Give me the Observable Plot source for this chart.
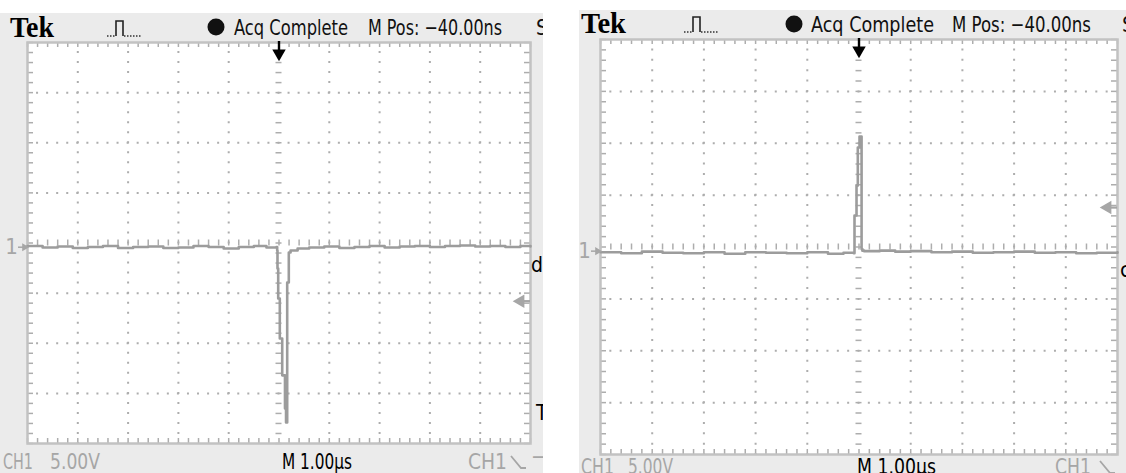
<!DOCTYPE html>
<html><head><meta charset="utf-8">
<script src="https://cdn.jsdelivr.net/npm/d3@7"></script>
<script src="https://cdn.jsdelivr.net/npm/@observablehq/plot@0.6"></script>
<style>
html,body{margin:0;padding:0;background:#fff;}
body{width:1126px;height:473px;overflow:hidden;position:relative;}
.panel{position:absolute;background:#ebebeb;overflow:hidden}
.panel svg{position:absolute;left:0;top:0}
</style></head>
<body>
<div id="left" class="panel" style="left:0;top:13px;width:543px;height:460px"></div>
<div id="right" class="panel" style="left:579px;top:10px;width:547px;height:463px"></div>
<script>
// ---------- data (time in µs, voltage in V; 1 µs/div, 5 V/div) ----------
const triggerTime = 0;
const leftT = [-5, -4.7, -4.4, -4.1, -3.8, -3.5, -3.2, -2.9, -2.6, -2.3, -2.0, -1.7, -1.4, -1.1, -0.8, -0.5, -0.25, -0.05,
  -0.036, -0.03, -0.016, 0.016, 0.064, 0.119, 0.14, 0.16, 0.163, 0.195, 0.23, 0.37,
  0.6, 0.9, 1.2, 1.5, 1.8, 2.1, 2.4, 2.7, 3.0, 3.3, 3.6, 3.9, 4.2, 4.5, 4.8, 5.0];
const leftV = [-0.3, -0.45, -0.35, -0.5, -0.4, -0.3, -0.5, -0.4, -0.35, -0.5, -0.45, -0.3, -0.4, -0.55, -0.4, -0.3, -0.45, -0.4,
  -0.75, -2.55, -5.54, -9.53, -13.2, -16.5, -17.9, -17.9, -3.94, -0.95, -0.75, -0.55,
  -0.45, -0.35, -0.5, -0.4, -0.3, -0.45, -0.35, -0.3, -0.4, -0.3, -0.25, -0.35, -0.3, -0.4, -0.3, -0.35];
const rightT = [-5, -4.6, -4.2, -3.8, -3.4, -3.0, -2.6, -2.2, -1.8, -1.4, -1.0, -0.6, -0.3, -0.1,
  -0.087, -0.048, -0.023, 0.01, 0.05, 0.065, 0.1,
  0.4, 0.7, 1.0, 1.4, 1.8, 2.2, 2.6, 3.0, 3.4, 3.8, 4.2, 4.6, 5.0];
const rightV = [-0.5, -0.6, -0.45, -0.55, -0.6, -0.5, -0.65, -0.5, -0.55, -0.6, -0.5, -0.65, -0.55, -0.6,
  3.03, 5.92, 9.59, 10.65, -0.2, -0.35, -0.4,
  -0.35, -0.45, -0.4, -0.5, -0.45, -0.55, -0.5, -0.45, -0.55, -0.5, -0.6, -0.55, -0.5];
const leftGround = -0.42, leftTrigLevel = -5.8;
const rightGround = -0.4, rightTrigLevel = 3.8;
const xDomain = [-5, 5];   // 10 divisions of 1 µs
const yDomain = [-20, 20]; // 8 divisions of 5 V
const headerTexts = ["Tek", "Acq Complete", "M Pos: \u221240.00ns", "S"];
const footerTexts = ["CH1", "5.00V", "M 1.00\u00B5s", "CH1", "\u2212"];
const sideTexts = ["d", "T", "c"];

const traceColor = "#9c9c9c", gridColor = "#adadad", frameColor = "#c2c2c2", labelGray = "#a6a6a6";
const narrow = "'Liberation Sans Narrow','DejaVu Sans Condensed',sans-serif";

function scope(cfg) {
  const {t, v, ground, trig, width, height, mt, mr, mb, ml} = cfg;
  const data = t.map((d, i) => ({t: d, v: v[i]}));
  const pxX = (width - ml - mr) / (xDomain[1] - xDomain[0]); // px per µs
  const pxY = (height - mt - mb) / (yDomain[1] - yDomain[0]); // px per V
  const minorX = d3.range(-25, 26).map(i => i / 5);
  const minorY = d3.range(-20, 21).map(i => i);
  const majorX = [-4, -3, -2, -1, 1, 2, 3, 4];
  const majorY = [-15, -10, -5, 5, 10, 15];
  const stepX = pxX / 5, stepY = pxY;
  const edge = 5;
  return Plot.plot({
    width, height, marginTop: mt, marginRight: mr, marginBottom: mb, marginLeft: ml,
    x: {domain: xDomain, axis: null},
    y: {domain: yDomain, axis: null},
    style: {background: "transparent", overflow: "visible"},
    marks: [
      Plot.frame({fill: "white", stroke: "none"}),
      Plot.ruleX(majorX, {stroke: gridColor, strokeWidth: 2, strokeDasharray: `2 ${stepY - 2}`, strokeDashoffset: 1}),
      Plot.ruleY(majorY, {stroke: gridColor, strokeWidth: 2, strokeDasharray: `2 ${stepX - 2}`, strokeDashoffset: 1}),
      // centre cross ticks
      Plot.ruleX(minorX, {x: d => d, y1: -3 / pxY, y2: 3 / pxY, stroke: gridColor, strokeWidth: 1.5}),
      Plot.ruleY(minorY, {y: d => d, x1: -3 / pxX, x2: 3 / pxX, stroke: gridColor, strokeWidth: 1.5}),
      // edge ticks
      Plot.ruleX(minorX, {x: d => d, y1: yDomain[1], y2: yDomain[1] - edge / pxY, stroke: gridColor, strokeWidth: 1.5}),
      Plot.ruleX(minorX, {x: d => d, y1: yDomain[0], y2: yDomain[0] + edge / pxY, stroke: gridColor, strokeWidth: 1.5}),
      Plot.ruleY(minorY, {y: d => d, x1: xDomain[0], x2: xDomain[0] + (edge + 1) / pxX, stroke: gridColor, strokeWidth: 1.5}),
      Plot.ruleY(minorY, {y: d => d, x1: xDomain[1], x2: xDomain[1] - (edge + 1) / pxX, stroke: gridColor, strokeWidth: 1.5}),
      Plot.frame({stroke: frameColor, strokeWidth: 2.5}),
      // trace
      Plot.line(data, {x: "t", y: "v", curve: "step-after", stroke: traceColor, strokeWidth: 2.6}),
      // trigger position arrow
      Plot.ruleX([triggerTime], {x: d => d, y1: yDomain[1] + 1 / pxY, y2: yDomain[1] - 8 / pxY, stroke: "black", strokeWidth: 2.4}),
      Plot.dot([triggerTime], {x: d => d, y: yDomain[1] - 11 / pxY, symbol: "triangle", rotate: 180, r: 5, fill: "black", stroke: "none"}),
      // trigger level arrow (right edge)
      Plot.ruleY([trig], {y: d => d, x1: xDomain[1], x2: xDomain[1] - 8 / pxX, stroke: labelGray, strokeWidth: 2.2}),
      Plot.dot([trig], {y: d => d, x: xDomain[1] - 10 / pxX, symbol: "triangle", rotate: 270, r: 5, fill: labelGray, stroke: "none"}),
      // ground marker (left, outside)
      Plot.text([ground], {y: d => d, x: xDomain[0], text: () => "1", dx: -16, fill: labelGray, fontSize: 22, fontFamily: narrow}),
      Plot.ruleY([ground], {y: d => d, x1: xDomain[0] - 9 / pxX, x2: xDomain[0] - 1 / pxX, stroke: labelGray, strokeWidth: 1.5}),
      Plot.dot([ground], {y: d => d, x: xDomain[0] - 3 / pxX, symbol: "triangle", rotate: 90, r: 3, fill: labelGray, stroke: "none"})
    ]
  });
}

function addText(svg, x, y, text, o = {}) {
  const el = svg.append("text").attr("x", x).attr("y", y).text(text)
    .attr("text-anchor", "start")
    .attr("font-family", o.family || narrow).attr("font-size", o.size || 21)
    .attr("fill", o.fill || "#111");
  if (o.weight) el.attr("font-weight", o.weight);
  if (o.len) el.attr("textLength", o.len).attr("lengthAdjust", "spacingAndGlyphs");
  return el;
}
function pulseIcon(svg, x, y) { // x,y = left baseline
  svg.append("path").attr("d", `M${x},${y} h8`).attr("stroke", "#333").attr("stroke-width", 1.5).attr("stroke-dasharray", "1.5 1.5").attr("fill", "none");
  svg.append("path").attr("d", `M${x + 9},${y} v-15 h7 v15`).attr("stroke", "#222").attr("stroke-width", 1.6).attr("fill", "none");
  svg.append("path").attr("d", `M${x + 17},${y} h17`).attr("stroke", "#333").attr("stroke-width", 1.5).attr("stroke-dasharray", "1.5 1.5").attr("fill", "none");
}
function slopeIcon(svg, x, y) {
  svg.append("path").attr("d", `M${x},${y - 13} L${x + 10},${y - 1} h5`).attr("stroke", labelGray).attr("stroke-width", 1.8).attr("fill", "none");
}

// ---------- left panel ----------
const L = scope({t: leftT, v: leftV, ground: leftGround, trig: leftTrigLevel, width: 543, height: 460, mt: 29, mr: 13, mb: 30, ml: 27});
document.getElementById("left").appendChild(L);
{
  const s = d3.select(L);
  addText(s, 10, 24, headerTexts[0], {family: "'Liberation Serif',serif", weight: "bold", size: 29, len: 44, fill: "#000"});
  pulseIcon(s, 107, 23);
  s.append("circle").attr("cx", 216).attr("cy", 14).attr("r", 8.5).attr("fill", "#111");
  addText(s, 234, 22, headerTexts[1], {len: 114});
  addText(s, 368, 22, headerTexts[2], {len: 134});
  addText(s, 536, 22, headerTexts[3]);
  addText(s, 3, 456, footerTexts[0], {fill: labelGray, len: 30});
  addText(s, 50, 456, footerTexts[1], {fill: labelGray, len: 50});
  addText(s, 282, 456, footerTexts[2], {fill: "#000", len: 70});
  addText(s, 468, 456, footerTexts[3], {fill: labelGray, len: 39});
  slopeIcon(s, 511, 456);
  addText(s, 531, 451, footerTexts[4], {fill: labelGray});
  addText(s, 531, 259, sideTexts[0], {fill: "#000"});
  addText(s, 536, 407, sideTexts[1], {fill: "#000"});
}
// ---------- right panel ----------
const R = scope({t: rightT, v: rightV, ground: rightGround, trig: rightTrigLevel, width: 547, height: 463, mt: 29, mr: 9, mb: 19, ml: 21});
document.getElementById("right").appendChild(R);
{
  const s = d3.select(R);
  addText(s, 2, 23, headerTexts[0], {family: "'Liberation Serif',serif", weight: "bold", size: 29, len: 45, fill: "#000"});
  pulseIcon(s, 105, 22);
  s.append("circle").attr("cx", 215).attr("cy", 14).attr("r", 8.5).attr("fill", "#111");
  addText(s, 232, 22, headerTexts[1], {size: 22, len: 123});
  addText(s, 373, 22, headerTexts[2], {size: 22, len: 139});
  addText(s, 543, 22, headerTexts[3], {size: 22});
  addText(s, 2, 464, footerTexts[0], {fill: labelGray, size: 22, len: 33});
  addText(s, 49, 464, footerTexts[1], {fill: labelGray, size: 22, len: 45});
  addText(s, 278, 464, footerTexts[2], {fill: "#000", size: 22, len: 79});
  addText(s, 476, 464, footerTexts[3], {fill: labelGray, size: 22, len: 36});
  slopeIcon(s, 521, 464);
  addText(s, 541, 267, sideTexts[2], {fill: "#000", size: 22});
}
</script>
</body></html>
